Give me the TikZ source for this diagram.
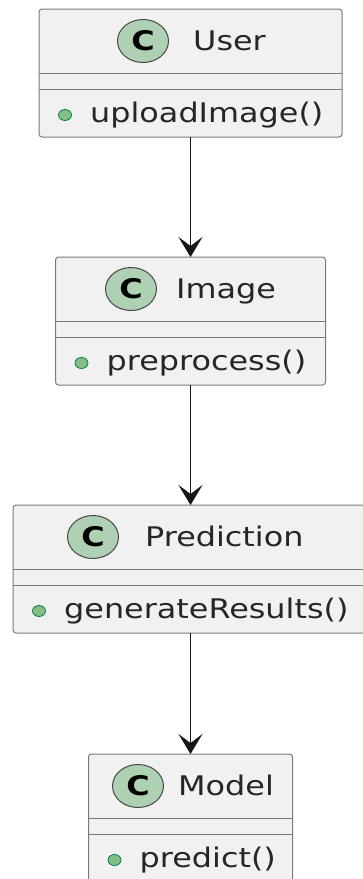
\documentclass[tikz,border=0pt]{standalone}
\usepackage{fontspec}
\setmainfont{DejaVu Sans}
\usetikzlibrary{arrows.meta,shapes.geometric}
\definecolor{boxfill}{HTML}{F1F1F1}
\definecolor{boxline}{HTML}{7A7A7A}
\definecolor{cfill}{HTML}{ADD1B2}
\definecolor{mfill}{HTML}{84BE84}
\definecolor{mline}{HTML}{038048}
\definecolor{arr}{HTML}{181818}
\newcommand{\sxt}[1]{\scalebox{1.18}[1]{#1}}
% #1 name, #2 cx, #3 top, #4 width, #5 circle x, #6 name left x, #7 title, #8 method
\newcommand{\umlclass}[8]{%
  \node[classbox, minimum width=#4, anchor=north] (#1) at (#2,#3) {};
  \draw[sepline] ([yshift=-64pt]#1.north west) -- ([yshift=-64pt]#1.north east);
  \draw[sepline] ([yshift=-80pt]#1.north west) -- ([yshift=-80pt]#1.north east);
  \node[cbadge] (#1c) at (#5,#3+32) {\sxt{\bfseries C}};
  \node[txt] (#1n) at (#6,#3+41.5) {\sxt{#7}};
  \node[bulletdot] (#1b) at (#2-#4/2+26,#3+106) {};
  \node[txt] (#1m) at (#2-#4/2+51,#3+113.5) {\sxt{#8}};
}
\begin{document}
\begin{tikzpicture}[x=1pt,y=-1pt,
  font=\fontsize{27}{32}\selectfont,
  classbox/.style={draw=boxline, fill=boxfill, line width=1pt, rounded corners=3pt,
    minimum height=128, inner sep=0pt, outer sep=0pt},
  sepline/.style={draw=boxline, line width=1pt},
  cbadge/.style={ellipse, draw=arr!80, fill=cfill, line width=1pt, minimum width=51,
    minimum height=43, inner sep=0pt},
  bulletdot/.style={ellipse, draw=mline, fill=mfill, line width=0.8pt, minimum width=13,
    minimum height=11, inner sep=0pt},
  txt/.style={anchor=base west, inner sep=0pt, text=black!85},
  arrowline/.style={draw=arr, line width=1.5pt, -{Stealth[length=20pt,width=24pt,inset=9pt]}}
]
\fill[white] (0,0) rectangle (362,879);
\useasboundingbox (0,0) rectangle (362,879);

\umlclass{user}{190.5}{9}{303}{143}{193}{User}{uploadImage()}
\umlclass{image}{190.5}{257}{270}{131}{176}{Image}{preprocess()}
\umlclass{pred}{190.5}{505}{355}{93}{145}{Prediction}{generateResults()}
\umlclass{model}{190.5}{754}{204}{138}{178}{Model}{predict()}

\draw[arrowline] (user.south) -- (image.north);
\draw[arrowline] (image.south) -- (pred.north);
\draw[arrowline] (pred.south) -- (model.north);
\end{tikzpicture}
\end{document}
